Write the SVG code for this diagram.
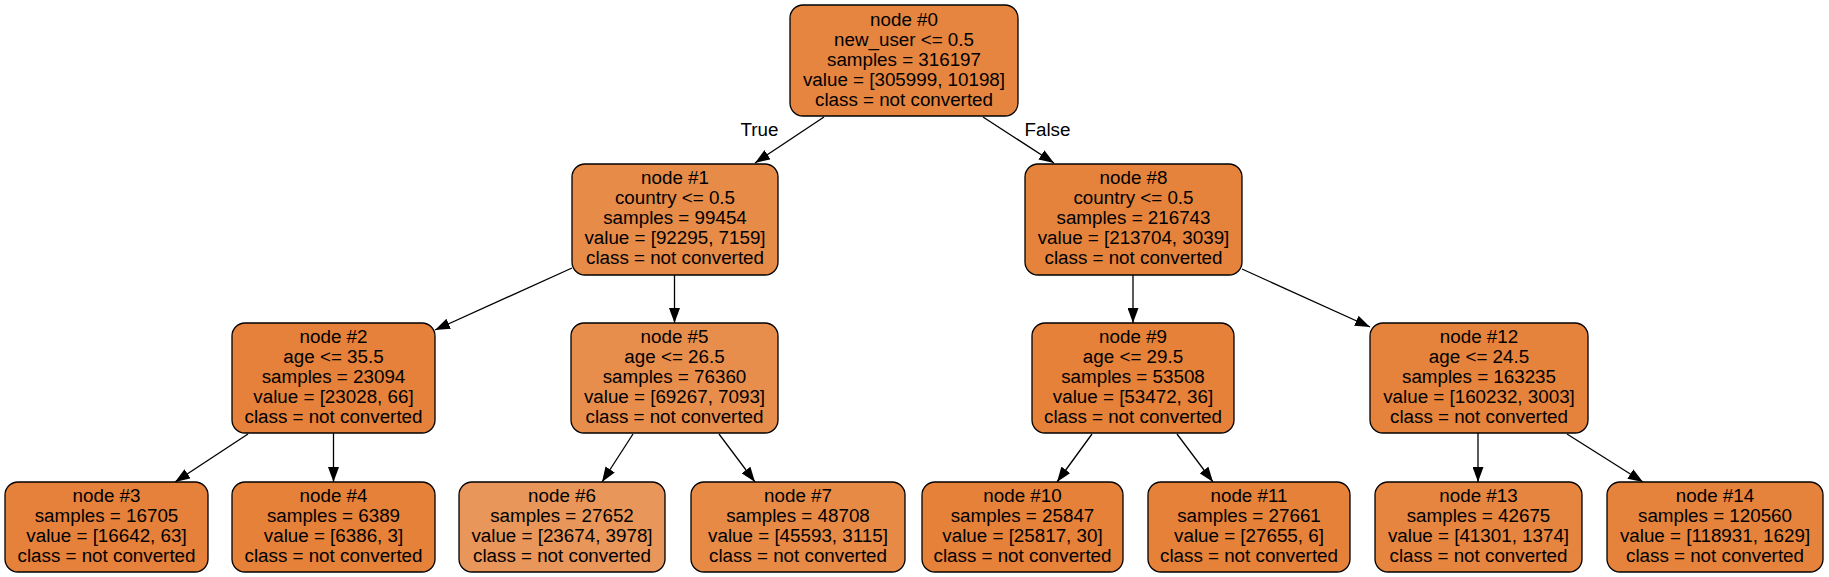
<svg xmlns="http://www.w3.org/2000/svg" width="1829" height="577" viewBox="0 0 1829 577">
<style>
.box{stroke:#000;stroke-width:1.3}
.t{font-family:"Liberation Sans",Arial,sans-serif;font-size:18.8px;fill:#000;text-anchor:middle}
.e{stroke:#000;stroke-width:1.3;fill:none;marker-end:url(#ah)}
</style>
<defs>
<marker id="ah" markerUnits="userSpaceOnUse" markerWidth="15" markerHeight="11" refX="15" refY="5.5" orient="auto">
<path d="M0,0 L15,5.5 L0,11 z" fill="#000"/>
</marker>
</defs>
<rect width="1829" height="577" fill="#fff"/>
<g id="edges">
<path class="e" d="M824,117 L755,163"/>
<path class="e" d="M983,117 L1054,163"/>
<path class="e" d="M572,268 L435,330"/>
<path class="e" d="M674.5,275 L674.5,323"/>
<path class="e" d="M1133,275 L1133,323"/>
<path class="e" d="M1242,269 L1370,327"/>
<path class="e" d="M248,434 L175,482"/>
<path class="e" d="M333.5,433 L333.5,482"/>
<path class="e" d="M633,434 L602,482"/>
<path class="e" d="M719,434 L755,482"/>
<path class="e" d="M1092,434 L1057,482"/>
<path class="e" d="M1177,434 L1213,482"/>
<path class="e" d="M1478,433 L1478,482"/>
<path class="e" d="M1567,434 L1643,482"/>
<text class="t" x="759.5" y="136">True</text>
<text class="t" x="1047.5" y="136">False</text>
</g>
<g id="node0">
<rect class="box" x="790" y="5" width="228" height="111" rx="13" fill="#e6853f"/>
<text class="t" x="904" y="25.5">node #0</text>
<text class="t" x="904" y="45.5">new_user &lt;= 0.5</text>
<text class="t" x="904" y="65.5">samples = 316197</text>
<text class="t" x="904" y="85.5">value = [305999, 10198]</text>
<text class="t" x="904" y="105.5">class = not converted</text>
</g>
<g id="node1">
<rect class="box" x="572" y="164" width="206" height="111" rx="13" fill="#e78b48"/>
<text class="t" x="675" y="183.5">node #1</text>
<text class="t" x="675" y="203.5">country &lt;= 0.5</text>
<text class="t" x="675" y="223.5">samples = 99454</text>
<text class="t" x="675" y="243.5">value = [92295, 7159]</text>
<text class="t" x="675" y="263.5">class = not converted</text>
</g>
<g id="node8">
<rect class="box" x="1025" y="164" width="217" height="111" rx="13" fill="#e5833c"/>
<text class="t" x="1133.5" y="183.5">node #8</text>
<text class="t" x="1133.5" y="203.5">country &lt;= 0.5</text>
<text class="t" x="1133.5" y="223.5">samples = 216743</text>
<text class="t" x="1133.5" y="243.5">value = [213704, 3039]</text>
<text class="t" x="1133.5" y="263.5">class = not converted</text>
</g>
<g id="node2">
<rect class="box" x="232" y="323" width="203" height="110" rx="13" fill="#e5813a"/>
<text class="t" x="333.5" y="343">node #2</text>
<text class="t" x="333.5" y="363">age &lt;= 35.5</text>
<text class="t" x="333.5" y="383">samples = 23094</text>
<text class="t" x="333.5" y="403">value = [23028, 66]</text>
<text class="t" x="333.5" y="423">class = not converted</text>
</g>
<g id="node5">
<rect class="box" x="571" y="323" width="207" height="110" rx="13" fill="#e88e4d"/>
<text class="t" x="674.5" y="343">node #5</text>
<text class="t" x="674.5" y="363">age &lt;= 26.5</text>
<text class="t" x="674.5" y="383">samples = 76360</text>
<text class="t" x="674.5" y="403">value = [69267, 7093]</text>
<text class="t" x="674.5" y="423">class = not converted</text>
</g>
<g id="node9">
<rect class="box" x="1032" y="323" width="202" height="110" rx="13" fill="#e58139"/>
<text class="t" x="1133" y="343">node #9</text>
<text class="t" x="1133" y="363">age &lt;= 29.5</text>
<text class="t" x="1133" y="383">samples = 53508</text>
<text class="t" x="1133" y="403">value = [53472, 36]</text>
<text class="t" x="1133" y="423">class = not converted</text>
</g>
<g id="node12">
<rect class="box" x="1370" y="323" width="218" height="110" rx="13" fill="#e5833d"/>
<text class="t" x="1479" y="343">node #12</text>
<text class="t" x="1479" y="363">age &lt;= 24.5</text>
<text class="t" x="1479" y="383">samples = 163235</text>
<text class="t" x="1479" y="403">value = [160232, 3003]</text>
<text class="t" x="1479" y="423">class = not converted</text>
</g>
<g id="node3">
<rect class="box" x="5" y="482" width="203" height="90" rx="13" fill="#e5813a"/>
<text class="t" x="106.5" y="502">node #3</text>
<text class="t" x="106.5" y="522">samples = 16705</text>
<text class="t" x="106.5" y="542">value = [16642, 63]</text>
<text class="t" x="106.5" y="562">class = not converted</text>
</g>
<g id="node4">
<rect class="box" x="232" y="482" width="203" height="90" rx="13" fill="#e58139"/>
<text class="t" x="333.5" y="502">node #4</text>
<text class="t" x="333.5" y="522">samples = 6389</text>
<text class="t" x="333.5" y="542">value = [6386, 3]</text>
<text class="t" x="333.5" y="562">class = not converted</text>
</g>
<g id="node6">
<rect class="box" x="459" y="482" width="206" height="90" rx="13" fill="#e9965a"/>
<text class="t" x="562" y="502">node #6</text>
<text class="t" x="562" y="522">samples = 27652</text>
<text class="t" x="562" y="542">value = [23674, 3978]</text>
<text class="t" x="562" y="562">class = not converted</text>
</g>
<g id="node7">
<rect class="box" x="691" y="482" width="214" height="90" rx="13" fill="#e78a46"/>
<text class="t" x="798" y="502">node #7</text>
<text class="t" x="798" y="522">samples = 48708</text>
<text class="t" x="798" y="542">value = [45593, 3115]</text>
<text class="t" x="798" y="562">class = not converted</text>
</g>
<g id="node10">
<rect class="box" x="922" y="482" width="201" height="90" rx="13" fill="#e58139"/>
<text class="t" x="1022.5" y="502">node #10</text>
<text class="t" x="1022.5" y="522">samples = 25847</text>
<text class="t" x="1022.5" y="542">value = [25817, 30]</text>
<text class="t" x="1022.5" y="562">class = not converted</text>
</g>
<g id="node11">
<rect class="box" x="1148" y="482" width="202" height="90" rx="13" fill="#e58139"/>
<text class="t" x="1249" y="502">node #11</text>
<text class="t" x="1249" y="522">samples = 27661</text>
<text class="t" x="1249" y="542">value = [27655, 6]</text>
<text class="t" x="1249" y="562">class = not converted</text>
</g>
<g id="node13">
<rect class="box" x="1375" y="482" width="207" height="90" rx="13" fill="#e6853f"/>
<text class="t" x="1478.5" y="502">node #13</text>
<text class="t" x="1478.5" y="522">samples = 42675</text>
<text class="t" x="1478.5" y="542">value = [41301, 1374]</text>
<text class="t" x="1478.5" y="562">class = not converted</text>
</g>
<g id="node14">
<rect class="box" x="1607" y="482" width="216" height="90" rx="13" fill="#e5833c"/>
<text class="t" x="1715" y="502">node #14</text>
<text class="t" x="1715" y="522">samples = 120560</text>
<text class="t" x="1715" y="542">value = [118931, 1629]</text>
<text class="t" x="1715" y="562">class = not converted</text>
</g>
</svg>
